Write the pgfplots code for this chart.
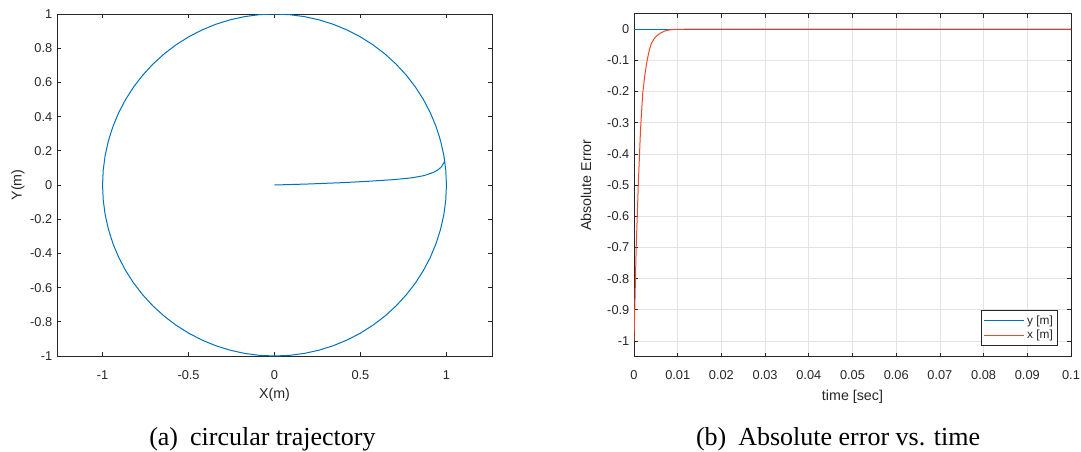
\documentclass[border=0pt]{standalone}
\usepackage{fontspec}
\setmainfont{Liberation Sans}
\newfontfamily\capfont{Liberation Serif}
\usepackage{pgfplots}
\pgfplotsset{compat=1.18}

\definecolor{mblue}{HTML}{0072BD}
\definecolor{mred}{HTML}{F5452A}
\definecolor{axgray}{HTML}{262626}
\definecolor{grgray}{HTML}{E3E3E3}

\pgfplotsset{
  mstyle/.style={
    scale only axis,
    axis line style={draw=axgray, line width=0.6pt},
    tick style={draw=axgray, line width=0.6pt},
    major tick length=3pt,
    tick align=inside,
    ticklabel style={text=axgray, font=\fontsize{9.6}{11}\selectfont},
    xticklabel style={yshift=-7.3pt},
    label style={text=axgray, font=\fontsize{10.7}{12}\selectfont},
    /pgf/number format/assume math mode=true,
    scaled ticks=false,
  }
}

\begin{document}
\begin{tikzpicture}
\path[use as bounding box] (0,0) rectangle (810.75pt,338.25pt);

% (a) trajectory
\begin{axis}[mstyle,
  at={(42.75pt,71.25pt)}, anchor=south west,
  width=326.25pt, height=256.5pt,
  xmin=-1.265, xmax=1.265, ymin=-1, ymax=1,
  xtick={-1,-0.5,0,0.5,1},
  xticklabels={-1,-0.5,0,0.5,1},
  ytick={-1,-0.8,-0.6,-0.4,-0.2,0,0.2,0.4,0.6,0.8,1},
  yticklabels={-1,-0.8,-0.6,-0.4,-0.2,0,0.2,0.4,0.6,0.8,1},
  xlabel={X(m)}, ylabel={Y(m)},
  xlabel style={at={(axis description cs:0.5,-0.1257)}, anchor=base},
  ylabel style={at={(axis description cs:-0.0897,0.5)}, anchor=center},
]
\addplot[mblue, line width=0.75pt] coordinates {
  (0,0) (0.2,0.006) (0.4,0.014) (0.55,0.022) (0.7,0.032) (0.8,0.042)
  (0.87,0.055) (0.92,0.072) (0.95,0.088) (0.97,0.105) (0.9903,0.1392)
  (0.9848,0.1736) (0.9659,0.2588) (0.9397,0.3420) (0.9063,0.4226)
  (0.8660,0.5000) (0.8192,0.5736) (0.7660,0.6428) (0.7071,0.7071)
  (0.6428,0.7660) (0.5736,0.8192) (0.5000,0.8660) (0.4226,0.9063)
  (0.3420,0.9397) (0.2588,0.9659) (0.1736,0.9848) (0.0872,0.9962)
  (0,1)
  (-0.0872,0.9962) (-0.1736,0.9848) (-0.2588,0.9659) (-0.3420,0.9397)
  (-0.4226,0.9063) (-0.5000,0.8660) (-0.5736,0.8192) (-0.6428,0.7660)
  (-0.7071,0.7071) (-0.7660,0.6428) (-0.8192,0.5736) (-0.8660,0.5000)
  (-0.9063,0.4226) (-0.9397,0.3420) (-0.9659,0.2588) (-0.9848,0.1736)
  (-0.9962,0.0872) (-1,0)
  (-0.9962,-0.0872) (-0.9848,-0.1736) (-0.9659,-0.2588) (-0.9397,-0.3420)
  (-0.9063,-0.4226) (-0.8660,-0.5000) (-0.8192,-0.5736) (-0.7660,-0.6428)
  (-0.7071,-0.7071) (-0.6428,-0.7660) (-0.5736,-0.8192) (-0.5000,-0.8660)
  (-0.4226,-0.9063) (-0.3420,-0.9397) (-0.2588,-0.9659) (-0.1736,-0.9848)
  (-0.0872,-0.9962) (0,-1)
  (0.0872,-0.9962) (0.1736,-0.9848) (0.2588,-0.9659) (0.3420,-0.9397)
  (0.4226,-0.9063) (0.5000,-0.8660) (0.5736,-0.8192) (0.6428,-0.7660)
  (0.7071,-0.7071) (0.7660,-0.6428) (0.8192,-0.5736) (0.8660,-0.5000)
  (0.9063,-0.4226) (0.9397,-0.3420) (0.9659,-0.2588) (0.9848,-0.1736)
  (0.9962,-0.0872) (1,0) (0.9962,0.0872) (0.9848,0.1736)
};
\end{axis}

% (b) absolute error
\begin{axis}[mstyle,
  at={(475.5pt,70.8pt)}, anchor=south west,
  width=327.75pt, height=257.25pt,
  xmin=0, xmax=0.1, ymin=-1.05, ymax=0.05,
  xtick={0,0.01,0.02,0.03,0.04,0.05,0.06,0.07,0.08,0.09,0.1},
  xticklabels={0,0.01,0.02,0.03,0.04,0.05,0.06,0.07,0.08,0.09,0.1},
  ytick={-1,-0.9,-0.8,-0.7,-0.6,-0.5,-0.4,-0.3,-0.2,-0.1,0},
  yticklabels={-1,-0.9,-0.8,-0.7,-0.6,-0.5,-0.4,-0.3,-0.2,-0.1,0},
  grid=major, grid style={draw=grgray, line width=0.5pt},
  xlabel={time [sec]}, ylabel={Absolute Error},
  xlabel style={at={(axis description cs:0.5,-0.1287)}, anchor=base},
  ylabel style={at={(axis description cs:-0.1096,0.5)}, anchor=center},
  legend style={at={(0.970,0.032)}, anchor=south east, draw=axgray,
    line width=0.5pt, fill=white, font=\fontsize{8.9}{10}\selectfont,
    inner sep=1.5pt, row sep=-1pt, text=axgray},
  legend cell align=left,
  legend image code/.code={\draw[#1] (0pt,0pt) -- (30pt,0pt);},
]
\addplot[mblue, line width=0.75pt] coordinates {(0,0) (0.1,0)};
\addlegendentry{y [m]}
\addplot[mred, line width=0.75pt] coordinates {
  (0,-1) (0.0005,-0.70) (0.001,-0.49) (0.0015,-0.32) (0.002,-0.205)
  (0.0025,-0.145) (0.003,-0.10) (0.0035,-0.067) (0.004,-0.045)
  (0.0045,-0.033) (0.005,-0.024) (0.0055,-0.018) (0.006,-0.013)
  (0.007,-0.006) (0.008,-0.0025) (0.009,-0.001) (0.01,-0.0004)
  (0.012,-0.0001) (0.1,0)
};
\addlegendentry{x [m]}
\end{axis}

\node[anchor=base west, inner sep=0pt, font=\capfont\fontsize{19.5}{22}\selectfont]
  at (111.75pt,4.5pt) {(a)\hspace{0.46em}circular trajectory};
\node[anchor=base west, inner sep=0pt, font=\capfont\fontsize{19.5}{22}\selectfont]
  at (521.8pt,4.5pt) {(b)\hspace{0.46em}Absolute error vs. time};
\end{tikzpicture}
\end{document}
